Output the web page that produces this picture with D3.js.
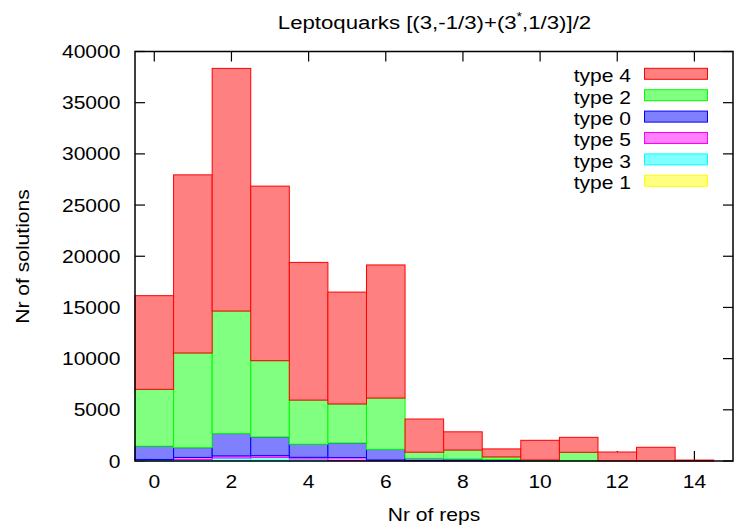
<!DOCTYPE html>
<html>
<head>
<meta charset="utf-8">
<script src="https://cdn.jsdelivr.net/npm/d3@7"></script>
<style>
  body { margin: 0; background: #fff; }
  svg text { font-family: "Liberation Sans", Arial, sans-serif; fill: #000; }
</style>
</head>
<body>
<div class="chart"></div>
<script>
// number of reps (x categories)
var reps = [0, 1, 2, 3, 4, 5, 6, 7, 8, 9, 10, 11, 12, 13, 14];

// solutions per type
var type1 = [0, 0, 0, 0, 0, 0, 0, 0, 0, 0, 0, 0, 0, 0, 0];
var type3 = [100, 150, 300, 350, 200, 50, 20, 0, 0, 0, 0, 0, 0, 0, 0];
var type5 = [50, 200, 200, 170, 160, 280, 80, 30, 20, 10, 0, 0, 0, 0, 0];
var type0 = [1300, 950, 2180, 1830, 1280, 1430, 1040, 230, 180, 140, 20, 0, 0, 0, 0];
var type2 = [5550, 9250, 11970, 7450, 4310, 3810, 5010, 600, 870, 250, 80, 850, 0, 0, 0];
var type4 = [9150, 17400, 23700, 17050, 13450, 10930, 13000, 3240, 1780, 780, 1920, 1460, 880, 1340, 90];

var xTicks = [0, 2, 4, 6, 8, 10, 12, 14];
var yTicks = [0, 5000, 10000, 15000, 20000, 25000, 30000, 35000, 40000];

// stacking order bottom -> top, legend order top -> bottom
var stackKeys = ["type 1", "type 3", "type 5", "type 0", "type 2", "type 4"];
var legendKeys = ["type 4", "type 2", "type 0", "type 5", "type 3", "type 1"];
var seriesByKey = {"type 1": type1, "type 3": type3, "type 5": type5, "type 0": type0, "type 2": type2, "type 4": type4};
var fills = {"type 4": "#ff8080", "type 2": "#80ff80", "type 0": "#8080ff", "type 5": "#ff80ff", "type 3": "#80ffff", "type 1": "#ffff80"};
var strokes = {"type 4": "#ff0000", "type 2": "#00ff00", "type 0": "#0000ff", "type 5": "#ff00ff", "type 3": "#00ffff", "type 1": "#ffff00"};

var svgWidth = 742, svgHeight = 529;
var margin = {top: 51.5, right: 9, bottom: 68, left: 135};
var width = svgWidth - margin.left - margin.right;
var height = svgHeight - margin.top - margin.bottom;

// the original font is a bit wider than Liberation Sans
var stretch = 1.17;

var svg = d3.select(".chart").append("svg")
  .attr("width", svgWidth)
  .attr("height", svgHeight);

function addText(parent, px, py, anchor, size, str) {
  return parent.append("g")
    .attr("transform", "translate(" + px + "," + py + ") scale(" + stretch + ",1)")
    .append("text")
    .attr("text-anchor", anchor)
    .attr("font-size", size + "px")
    .text(str);
}

var chart = svg.append("g")
  .attr("transform", "translate(" + margin.left + "," + margin.top + ")");

var x = d3.scaleLinear().domain([-0.5, 15]).range([0, width]);
var y = d3.scaleLinear().domain([0, 40000]).range([height, 0]);

// build rows for d3.stack
var table = reps.map(function(r, i) {
  var row = {rep: r};
  stackKeys.forEach(function(k) { row[k] = seriesByKey[k][i]; });
  return row;
});
var layers = d3.stack().keys(stackKeys)(table);

// inner tick marks (drawn below the boxes, like the original)
var tickLen = 10;
var ticks = chart.append("g").attr("stroke", "#000").attr("stroke-width", 1.2);
xTicks.forEach(function(t) {
  ticks.append("line").attr("x1", x(t)).attr("x2", x(t)).attr("y1", height).attr("y2", height - tickLen);
  ticks.append("line").attr("x1", x(t)).attr("x2", x(t)).attr("y1", 0).attr("y2", tickLen);
});
yTicks.forEach(function(t) {
  ticks.append("line").attr("x1", 0).attr("x2", tickLen).attr("y1", y(t)).attr("y2", y(t));
  ticks.append("line").attr("x1", width).attr("x2", width - tickLen).attr("y1", y(t)).attr("y2", y(t));
});

// stacked boxes
layers.forEach(function(layer) {
  chart.append("g").selectAll("rect")
    .data(layer)
    .enter()
    .append("rect")
    .attr("x", function(d) { return x(d.data.rep - 0.5); })
    .attr("width", function(d) { return x(d.data.rep + 0.5) - x(d.data.rep - 0.5); })
    .attr("y", function(d) { return y(d[1]); })
    .attr("height", function(d) { return y(d[0]) - y(d[1]); })
    .attr("fill", fills[layer.key])
    .attr("stroke", strokes[layer.key])
    .attr("stroke-width", 1);
});

// frame
chart.append("rect")
  .attr("width", width).attr("height", height)
  .attr("fill", "none").attr("stroke", "#000").attr("stroke-width", 1.5);

// tick labels
xTicks.forEach(function(t) {
  addText(chart, x(t), height + 27, "middle", 18, t);
});
yTicks.forEach(function(t) {
  addText(chart, -14.5, y(t) + 6.5, "end", 18, t);
});

// axis titles
addText(svg, 434, 521, "middle", 18, "Nr of reps");

svg.append("g")
  .attr("transform", "translate(28.5,256.5) rotate(-90) scale(" + stretch + ",1)")
  .append("text")
  .attr("text-anchor", "middle")
  .attr("font-size", "18px")
  .text("Nr of solutions");

// title with superscript star
var title = addText(svg, 434.5, 28.5, "middle", 19, null);
title.append("tspan").text("Leptoquarks [(3,-1/3)+(3");
title.append("tspan").attr("dy", -8).attr("font-size", "12px").text("*");
title.append("tspan").attr("dy", 8).text(",1/3)]/2");

// legend
var legend = svg.append("g");
legendKeys.forEach(function(k, i) {
  var cy = 73.8 + i * 21.4;
  addText(legend, 631, cy + 8.3, "end", 18, k);
  legend.append("rect")
    .attr("x", 644.5).attr("y", cy - 5.5)
    .attr("width", 63).attr("height", 11)
    .attr("fill", fills[k])
    .attr("stroke", strokes[k])
    .attr("stroke-width", 1);
});
</script>
</body>
</html>
